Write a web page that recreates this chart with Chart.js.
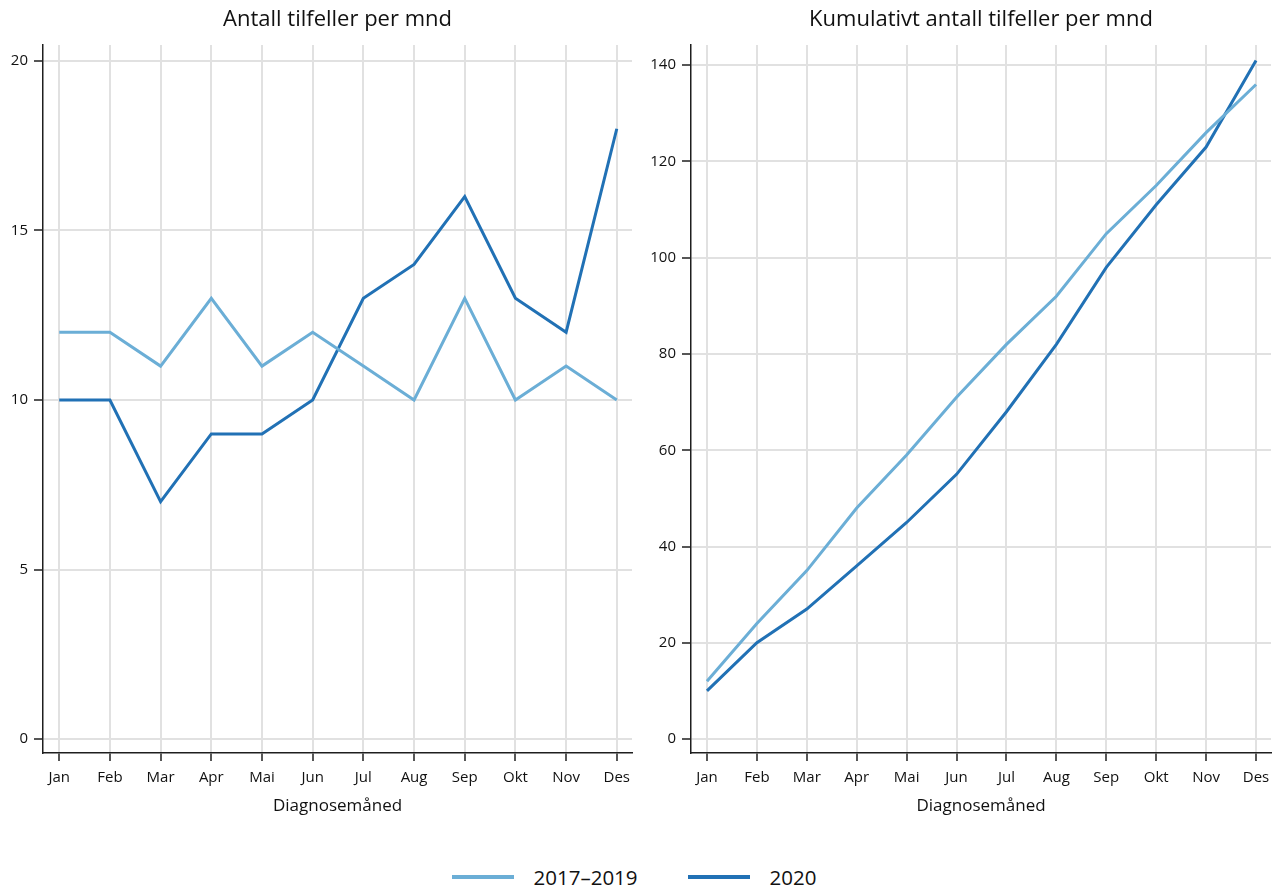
<!DOCTYPE html>
<html lang="no">
<head>
<meta charset="utf-8">
<title>Antall tilfeller per måned</title>
<script src="https://cdn.jsdelivr.net/npm/chart.js@4.4.1/dist/chart.umd.min.js"></script>
<style>
  html, body { margin: 0; padding: 0; background: #ffffff; }
  body { width: 1280px; height: 890px; position: relative; overflow: hidden; font-family: "Open Sans", "Noto Sans", sans-serif; }
  .panel { position: absolute; top: 0; width: 640px; height: 830px; }
  #left { left: 0; }
  #right { left: 640px; }
  #legend { position: absolute; left: 0; top: 862px; width: 1268px; height: 30px; display: flex; justify-content: center; align-items: center; font-size: 20.5px; color: #111; }
  .item { display: flex; align-items: center; margin: 0 25px; }
  .swatch { width: 62px; height: 4px; margin-right: 20px; }
</style>
</head>
<body>
<div class="panel" id="left"><canvas id="c1" width="640" height="830"></canvas></div>
<div class="panel" id="right"><canvas id="c2" width="640" height="830"></canvas></div>
<div id="legend"></div>
<script>
// Diagnosis months
const months = ['Jan', 'Feb', 'Mar', 'Apr', 'Mai', 'Jun', 'Jul', 'Aug', 'Sep', 'Okt', 'Nov', 'Des'];

// Cases per month
const cases20172019 = [12, 12, 11, 13, 11, 12, 11, 10, 13, 10, 11, 10];
const cases2020 = [10, 10, 7, 9, 9, 10, 13, 14, 16, 13, 12, 18];

// Cumulative cases per month
const cumulative20172019 = [12, 24, 35, 48, 59, 71, 82, 92, 105, 115, 126, 136];
const cumulative2020 = [10, 20, 27, 36, 45, 55, 68, 82, 98, 111, 123, 141];

// Y tick values
const leftTicks = [0, 5, 10, 15, 20];
const rightTicks = [0, 20, 40, 60, 80, 100, 120, 140];

const seriesNames = ['2017\u20132019', '2020'];
const seriesColors = ['#6baed6', '#2171b5'];

const FONT = '"Open Sans", "Noto Sans", sans-serif';
const GRID = '#e1e1e1';
const AXIS = '#1e1e1e';

function points(values) {
  return values.map((v, i) => ({ x: i, y: v }));
}

function makeChart(id, title, seriesA, seriesB, yTicks, yMin, yMax, yWidth, padRight) {
  const ctx = document.getElementById(id).getContext('2d');
  return new Chart(ctx, {
    type: 'line',
    data: {
      datasets: [seriesA, seriesB].map((vals, k) => ({
        label: seriesNames[k],
        data: points(vals),
        borderColor: seriesColors[k],
        backgroundColor: seriesColors[k],
        borderWidth: 3,
        pointRadius: 0,
        tension: 0,
        fill: false
      }))
    },
    options: {
      responsive: false,
      animation: false,
      layout: { padding: { top: 0, left: 0, right: padRight, bottom: 14 } },
      plugins: {
        legend: { display: false },
        tooltip: { enabled: false },
        title: {
          display: true,
          text: title,
          fullSize: false,
          color: '#111',
          font: { family: FONT, size: 22, weight: 'normal', lineHeight: 1.2 },
          padding: { top: 7, bottom: 11.6 }
        }
      },
      scales: {
        x: {
          type: 'linear',
          min: -0.32,
          max: 11.3,
          afterBuildTicks: s => { s.ticks = months.map((m, i) => ({ value: i })); },
          afterFit: s => { s.height = 63; },
          ticks: {
            callback: v => months[v],
            color: '#111',
            font: { family: FONT, size: 15 },
            padding: 7.5,
            maxRotation: 0,
            autoSkip: false
          },
          grid: { color: GRID, lineWidth: 2, tickColor: AXIS, tickWidth: 1.5, tickLength: 8 },
          border: { display: true, color: AXIS, width: 1.5 },
          title: {
            display: true,
            text: 'Diagnosemåned',
            color: '#111',
            font: { family: FONT, size: 17, lineHeight: 1.2 },
            padding: 0
          }
        },
        y: {
          type: 'linear',
          min: yMin,
          max: yMax,
          afterBuildTicks: s => { s.ticks = yTicks.map(v => ({ value: v })); },
          afterFit: s => { s.width = yWidth; },
          ticks: {
            color: '#111',
            font: { family: FONT, size: 15 },
            padding: 6
          },
          grid: { color: GRID, lineWidth: 2, tickColor: AXIS, tickWidth: 1.5, tickLength: 9 },
          border: { display: true, color: AXIS, width: 1.5 }
        }
      }
    }
  });
}

makeChart('c1', 'Antall tilfeller per mnd', cases20172019, cases2020, leftTicks, -0.41, 20.47, 43, 8);
makeChart('c2', 'Kumulativt antall tilfeller per mnd', cumulative20172019, cumulative2020, rightTicks, -2.9, 144.2, 51, 9);

// Shared legend
const legend = document.getElementById('legend');
seriesNames.forEach((name, k) => {
  const item = document.createElement('div');
  item.className = 'item';
  const sw = document.createElement('span');
  sw.className = 'swatch';
  sw.style.background = seriesColors[k];
  const label = document.createElement('span');
  label.textContent = name;
  item.appendChild(sw);
  item.appendChild(label);
  legend.appendChild(item);
});
</script>
</body>
</html>
